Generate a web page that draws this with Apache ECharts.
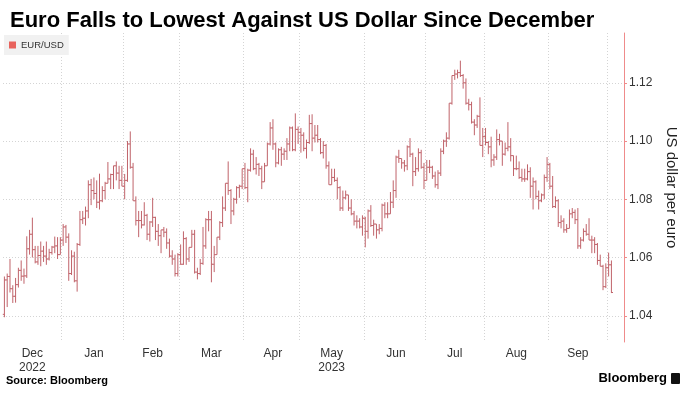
<!DOCTYPE html>
<html>
<head>
<meta charset="utf-8">
<script src="https://cdn.jsdelivr.net/npm/echarts@6.0.0/dist/echarts.min.js"></script>
<style>
  html, body { margin: 0; padding: 0; background: #fff; }
  #chart { width: 687px; height: 399px; }
</style>
</head>
<body>
<div id="chart"></div>
<script>
// EUR/USD daily bars, 1 Dec 2022 .. 2 Oct 2023 (one value per trading day)
const open = [
  1.0405,1.0523,1.0535,1.0493,1.0467,1.0507,1.0556,1.0536,1.0537,1.0630,1.0680,1.0627,1.0585,1.0607,1.0622,1.0605,1.0595,1.0617,1.0636,1.0640,1.0610,1.0660,
  1.0705,1.0670,1.0545,1.0605,1.0520,1.0645,1.0730,1.0735,1.0760,1.0850,1.0830,1.0820,1.0790,1.0795,1.0830,1.0855,1.0870,1.0885,1.0915,1.0890,1.0865,1.0845,
  1.0865,1.0990,1.0910,1.0795,1.0727,1.0727,1.0712,1.0745,1.0680,1.0722,1.0738,1.0690,1.0675,1.0695,1.0687,1.0650,1.0605,1.0595,1.0545,1.0610,
  1.0577,1.0665,1.0595,1.0635,1.0680,1.0550,1.0545,1.0580,1.0640,1.0730,1.0730,1.0577,1.0610,1.0670,1.0720,1.0770,1.0855,1.0830,1.0760,1.0800,1.0840,1.0845,1.0905,
  1.0840,1.0900,1.0955,1.0905,1.0920,1.0905,1.0860,1.0915,1.0990,1.1045,1.0990,1.0925,1.0970,1.0955,1.0965,1.0990,1.1045,1.0970,1.1040,1.1030,
  1.1020,1.0975,1.0995,1.1060,1.1010,1.1020,1.1005,1.0960,1.0985,1.0915,1.0850,1.0875,1.0865,1.0840,1.0770,1.0805,1.0815,1.0770,1.0750,1.0725,1.0725,1.0705,1.0735,
  1.0690,1.0760,1.0710,1.0715,1.0695,1.0700,1.0780,1.0750,1.0750,1.0790,1.0830,1.0945,1.0940,1.0925,1.0915,1.0980,1.0955,1.0895,1.0905,1.0960,1.0910,1.0865,
  1.0910,1.0910,1.0880,1.0850,1.0890,1.0965,1.1000,1.1010,1.1130,1.1225,1.1230,1.1235,1.1225,1.1200,1.1130,1.1125,1.1065,1.1055,1.1085,1.0985,1.1015,
  1.0995,1.0980,1.0935,1.0945,1.1005,1.1000,1.0955,1.0975,1.0980,1.0950,1.0905,1.0905,1.0875,1.0870,1.0870,1.0895,1.0845,1.0860,1.0810,1.0795,1.0815,1.0875,1.0920,
  1.0845,1.0775,1.0795,1.0720,1.0725,1.0695,1.0700,1.0750,1.0755,1.0730,1.0640,1.0660,1.0690,1.0680,1.0660,1.0660,1.0645,1.0590,1.0570,1.0500,1.0565,
  1.0575
]
const high = [
  1.0535,1.0545,1.0595,1.0505,1.0530,1.0565,1.0590,1.0562,1.0673,1.0695,1.0737,1.0640,1.0640,1.0655,1.0640,1.0655,1.0630,1.0640,1.0672,1.0670,1.0670,1.0715,
  1.0712,1.0683,1.0625,1.0620,1.0650,1.0760,1.0760,1.0775,1.0865,1.0870,1.0875,1.0865,1.0888,1.0845,1.0860,1.0928,1.0888,1.0915,1.0930,1.0915,1.0915,1.0887,
  1.1000,1.1033,1.0925,1.0810,1.0760,1.0760,1.0790,1.0750,1.0725,1.0805,1.0740,1.0715,1.0695,1.0705,1.0700,1.0665,1.0625,1.0610,1.0615,1.0645,
  1.0690,1.0670,1.0635,1.0695,1.0695,1.0565,1.0595,1.0705,1.0735,1.0760,1.0760,1.0640,1.0670,1.0725,1.0810,1.0855,1.0930,1.0835,1.0805,1.0845,1.0850,1.0905,1.0925,
  1.0905,1.0975,1.0970,1.0945,1.0925,1.0915,1.0925,1.0995,1.1065,1.1075,1.0995,1.0975,1.0980,1.0975,1.1010,1.1050,1.1050,1.1095,1.1050,1.1045,
  1.1030,1.1005,1.1090,1.1092,1.1055,1.1055,1.1010,1.1000,1.0990,1.0930,1.0905,1.0905,1.0875,1.0845,1.0830,1.0830,1.0815,1.0800,1.0760,1.0745,1.0735,1.0745,1.0740,
  1.0765,1.0780,1.0730,1.0715,1.0715,1.0785,1.0790,1.0790,1.0825,1.0865,1.0950,1.0970,1.0940,1.0935,1.0985,1.1010,1.0960,1.0945,1.0975,1.0970,1.0925,1.0935,
  1.0935,1.0915,1.0895,1.0900,1.0975,1.1005,1.1030,1.1130,1.1225,1.1245,1.1245,1.1276,1.1230,1.1215,1.1145,1.1135,1.1075,1.1090,1.1150,1.1045,1.1045,
  1.1000,1.1015,1.0955,1.1040,1.1025,1.1000,1.0995,1.1065,1.1010,1.0950,1.0950,1.0930,1.0905,1.0905,1.0920,1.0910,1.0875,1.0865,1.0830,1.0820,1.0885,1.0945,1.0925,
  1.0880,1.0810,1.0800,1.0745,1.0735,1.0715,1.0765,1.0770,1.0765,1.0770,1.0670,1.0700,1.0715,1.0735,1.0675,1.0670,1.0650,1.0610,1.0575,1.0580,1.0617,
  1.0590
]
const low = [
  1.0395,1.0430,1.0480,1.0444,1.0445,1.0497,1.0520,1.0510,1.0530,1.0610,1.0600,1.0580,1.0575,1.0570,1.0585,1.0575,1.0590,1.0610,1.0615,1.0595,1.0610,1.0640,
  1.0650,1.0520,1.0540,1.0515,1.0483,1.0640,1.0715,1.0710,1.0735,1.0780,1.0800,1.0770,1.0765,1.0790,1.0800,1.0855,1.0835,1.0835,1.0865,1.0835,1.0845,1.0800,
  1.0860,1.0905,1.0795,1.0710,1.0670,1.0700,1.0710,1.0660,1.0655,1.0705,1.0660,1.0640,1.0615,1.0670,1.0630,1.0600,1.0575,1.0535,1.0535,1.0575,
  1.0575,1.0575,1.0585,1.0635,1.0545,1.0525,1.0540,1.0575,1.0630,1.0690,1.0515,1.0550,1.0610,1.0660,1.0705,1.0760,1.0815,1.0715,1.0745,1.0785,1.0805,1.0835,1.0835,
  1.0790,1.0895,1.0900,1.0885,1.0880,1.0835,1.0860,1.0915,1.0985,1.0970,1.0910,1.0920,1.0915,1.0935,1.0935,1.0965,1.0965,1.0965,1.0990,1.0960,
  1.0965,1.0940,1.0990,1.0965,1.0995,1.0995,1.0955,1.0940,1.0905,1.0850,1.0850,1.0860,1.0800,1.0760,1.0760,1.0800,1.0760,1.0745,1.0710,1.0700,1.0700,1.0675,1.0635,
  1.0665,1.0705,1.0675,1.0665,1.0680,1.0690,1.0735,1.0735,1.0750,1.0770,1.0805,1.0925,1.0905,1.0895,1.0900,1.0945,1.0845,1.0880,1.0895,1.0905,1.0835,1.0865,
  1.0890,1.0870,1.0840,1.0835,1.0880,1.0955,1.0980,1.1005,1.1125,1.1210,1.1215,1.1220,1.1180,1.1125,1.1105,1.1060,1.1020,1.1045,1.0985,1.0945,1.0985,
  1.0955,1.0910,1.0915,1.0935,1.0985,1.0915,1.0950,1.0965,1.0930,1.0880,1.0900,1.0870,1.0860,1.0860,1.0865,1.0805,1.0765,1.0800,1.0765,1.0790,1.0800,1.0860,1.0835,
  1.0770,1.0770,1.0705,1.0700,1.0685,1.0685,1.0700,1.0735,1.0715,1.0630,1.0630,1.0655,1.0675,1.0660,1.0615,1.0615,1.0575,1.0570,1.0488,1.0495,1.0535,
  1.0478
]
const close = [
  1.0523,1.0535,1.0493,1.0467,1.0507,1.0556,1.0536,1.0537,1.0630,1.0680,1.0627,1.0585,1.0607,1.0622,1.0605,1.0595,1.0617,1.0636,1.0640,1.0610,1.0660,1.0705,
  1.0670,1.0545,1.0605,1.0520,1.0645,1.0730,1.0735,1.0760,1.0850,1.0830,1.0820,1.0790,1.0795,1.0830,1.0855,1.0870,1.0885,1.0915,1.0890,1.0865,1.0845,1.0865,
  1.0990,1.0910,1.0795,1.0727,1.0727,1.0712,1.0745,1.0680,1.0722,1.0738,1.0690,1.0675,1.0695,1.0687,1.0650,1.0605,1.0595,1.0545,1.0610,1.0577,
  1.0665,1.0595,1.0635,1.0680,1.0550,1.0545,1.0580,1.0640,1.0730,1.0730,1.0577,1.0610,1.0670,1.0720,1.0770,1.0855,1.0830,1.0760,1.0800,1.0840,1.0845,1.0905,1.0840,
  1.0900,1.0955,1.0905,1.0920,1.0905,1.0860,1.0915,1.0990,1.1045,1.0990,1.0925,1.0970,1.0955,1.0965,1.0990,1.1045,1.0970,1.1040,1.1030,1.1020,
  1.0975,1.0995,1.1060,1.1010,1.1020,1.1005,1.0960,1.0985,1.0915,1.0850,1.0875,1.0865,1.0840,1.0770,1.0805,1.0815,1.0770,1.0750,1.0725,1.0725,1.0705,1.0735,1.0690,
  1.0760,1.0710,1.0715,1.0695,1.0700,1.0780,1.0750,1.0750,1.0790,1.0830,1.0945,1.0940,1.0925,1.0915,1.0980,1.0955,1.0895,1.0905,1.0960,1.0910,1.0865,1.0910,
  1.0910,1.0880,1.0850,1.0890,1.0965,1.1000,1.1010,1.1130,1.1225,1.1230,1.1235,1.1225,1.1200,1.1130,1.1125,1.1065,1.1055,1.1085,1.0985,1.1015,1.0995,
  1.0980,1.0935,1.0945,1.1005,1.1000,1.0955,1.0975,1.0980,1.0950,1.0905,1.0905,1.0875,1.0870,1.0870,1.0895,1.0845,1.0860,1.0810,1.0795,1.0815,1.0875,1.0920,1.0845,
  1.0775,1.0795,1.0720,1.0725,1.0695,1.0700,1.0750,1.0755,1.0730,1.0640,1.0660,1.0690,1.0680,1.0660,1.0660,1.0645,1.0590,1.0570,1.0500,1.0565,1.0575,
  1.0480
]
const yTicks = [1.04, 1.06, 1.08, 1.10, 1.12]
const monthNames = ['Jan', 'Feb', 'Mar', 'Apr', 'May', 'Jun', 'Jul', 'Aug', 'Sep', 'Oct', 'Nov', 'Dec']
const yearUnder = { '2022-12': '2022', '2023-05': '2023' }
const slotCount = 222   // trading days shown on the axis, a few left empty at the end

// weekday dates from 1 Dec 2022
const days = []
let d = new Date(Date.UTC(2022, 11, 1))
while (days.length < slotCount) {
  const wd = d.getUTCDay()
  if (wd !== 0 && wd !== 6) days.push(d.toISOString().slice(0, 10))
  d.setUTCDate(d.getUTCDate() + 1)
}

// grid lines sit just before the last trading day of every month
const monthEnd = new Set()
for (let i = 0; i < days.length - 1; i++) {
  if (days[i].slice(0, 7) !== days[i + 1].slice(0, 7)) monthEnd.add(i)
}
// one label per full month, centred between its grid lines
const labelAt = {}
let first = 0
for (let i = 1; i <= close.length; i++) {
  if (i === close.length || days[i].slice(0, 7) !== days[first].slice(0, 7)) {
    const last = i - 1
    if (i < close.length) {
      const from = first === 0 ? 0 : first - 1
      const mid = Math.round((from + last) / 2 - 0.5)
      const key = days[first].slice(0, 7)
      const m = monthNames[+key.slice(5, 7) - 1]
      labelAt[mid] = yearUnder[key] ? m + '\n' + yearUnder[key] : m
    }
    first = i
  }
}

const bars = close.map((c, i) => [i, open[i], c, low[i], high[i]])

const chart = echarts.init(document.getElementById('chart'))
const font = 'Liberation Sans'
chart.setOption({
  animation: false,
  textStyle: { fontFamily: font },
  title: {
    text: 'Euro Falls to Lowest Against US Dollar Since December',
    left: 5, top: 5,
    textStyle: { fontSize: 22, fontWeight: 'bold', color: '#000', fontFamily: font }
  },
  legend: {
    left: 4, top: 35,
    padding: [5, 5, 5, 5],
    backgroundColor: '#f1f1f1',
    itemWidth: 7, itemHeight: 7, itemGap: 4,
    textStyle: { fontSize: 9.5, color: '#333' },
    data: [{ name: 'EUR/USD', icon: 'rect', itemStyle: { color: '#e8625c' } }]
  },
  grid: { left: 3, right: 52, top: 33, bottom: 57 },
  xAxis: {
    type: 'category',
    data: days,
    boundaryGap: true,
    axisLine: { show: false },
    axisTick: { show: false },
    axisLabel: {
      interval: (i) => labelAt[i] !== undefined,
      formatter: (v, i) => labelAt[i] || '',
      color: '#333', fontSize: 12, lineHeight: 14, margin: 5
    },
    splitLine: {
      show: true,
      interval: (i) => monthEnd.has(i),
      lineStyle: { color: '#d4d4d4', type: [1, 2], width: 1 }
    }
  },
  yAxis: {
    type: 'value',
    position: 'right',
    min: 1.031, max: 1.1371,
    axisLine: { show: true, lineStyle: { color: '#ef8b8b' } },
    axisTick: { show: true, customValues: yTicks, length: 3, lineStyle: { color: '#ef8b8b' } },
    axisLabel: { customValues: yTicks, formatter: (v) => v.toFixed(2), color: '#333', fontSize: 12, margin: 5 },
    splitLine: { show: true, lineStyle: { color: '#d4d4d4', type: [1, 2], width: 1 } },
    name: 'US dollar per euro',
    nameLocation: 'middle',
    nameRotate: -90,
    nameGap: 40,
    nameTextStyle: { fontSize: 15, color: '#222' }
  },
  series: [{
    name: 'EUR/USD',
    type: 'custom',
    data: bars,
    encode: { x: 0, y: [1, 2, 3, 4] },
    renderItem: (params, api) => {
      const i = api.value(0)
      const o = api.coord([i, api.value(1)])
      const c = api.coord([i, api.value(2)])
      const l = api.coord([i, api.value(3)])
      const h = api.coord([i, api.value(4)])
      const st = { stroke: '#c0636a', lineWidth: 1 }
      return {
        type: 'group',
        children: [
          { type: 'line', shape: { x1: h[0], y1: h[1], x2: l[0], y2: l[1] }, style: st },
          { type: 'line', shape: { x1: o[0] - 1.6, y1: o[1], x2: o[0], y2: o[1] }, style: st },
          { type: 'line', shape: { x1: c[0], y1: c[1], x2: c[0] + 1.6, y2: c[1] }, style: st }
        ]
      }
    }
  }],
  graphic: [
    { type: 'text', left: 6, top: 375, style: { text: 'Source: Bloomberg', font: 'bold 11px "Liberation Sans"', fill: '#000' } },
    { type: 'text', right: 20, top: 372, style: { text: 'Bloomberg', font: 'bold 13px "Liberation Sans"', fill: '#000' } },
    { type: 'rect', right: 7, top: 373, shape: { width: 9, height: 11, r: 1 }, style: { fill: '#111' } }
  ]
})
</script>
</body>
</html>
